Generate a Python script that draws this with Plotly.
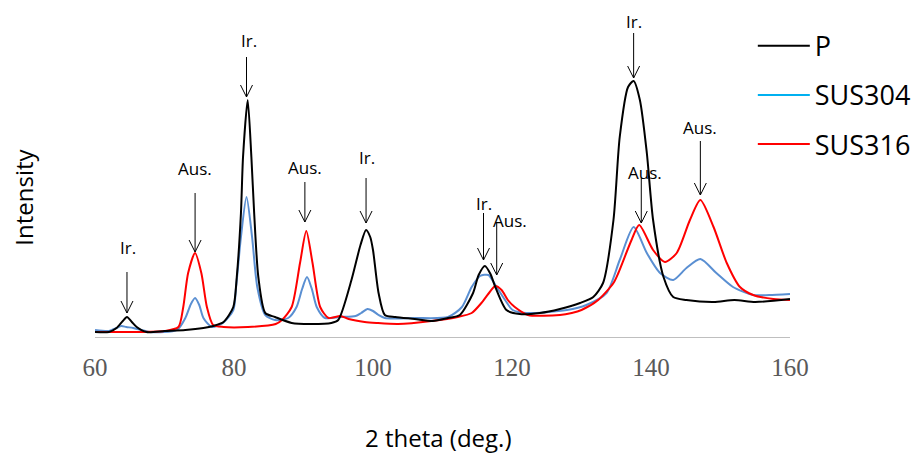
import plotly.graph_objects as go

# ---- data ----
p_x = [60, 62, 63.1, 64, 64.6, 65.3, 66, 67.4, 70, 73, 75.6, 77, 78.5, 79.9, 80.4, 81.0, 81.3, 81.97,
       82.5, 82.9, 83.5, 84.5, 85.9, 88.3, 91, 94, 95, 96.9, 98.2, 99.0, 99.6, 100.0, 100.8, 101.7,
       103.2, 106, 108.6, 110.8, 112.5, 114.4, 115.2, 116.1, 116.9, 117.6, 119.2, 121.1, 124, 126.9,
       129.8, 131.7, 133.1, 134.6, 135.5, 136.7, 137.5, 138.4, 139.4, 140.3, 141.8, 143.2, 145.1,
       149, 152, 155, 160]
p_y = [5, 5, 9, 16, 20, 15, 10, 5, 6, 7, 9, 11, 15, 30, 60, 124, 180, 237,
       180, 124, 60, 24, 20, 14, 13, 14, 17, 57, 92, 107, 100, 87, 44, 22,
       20, 18, 16, 19, 22, 44, 62, 71, 63, 50, 27, 23, 24, 28,
       34, 40, 54, 117, 200, 250, 256, 237, 184, 117, 60, 40, 37,
       35, 37, 35, 38]

sus304_x = [60, 62, 63.1, 63.8, 64.5, 65.5, 67.9, 71.8, 73, 73.8, 74.4, 75.0, 75.6, 76.8, 78.4, 79.9,
            80.3, 81.0, 81.8, 82.6, 83.35, 84.5, 85.9, 87.8, 89.0, 89.8, 90.5, 91.2, 91.9, 93.1, 95.3,
            97.5, 98.3, 99.2, 100.0, 100.8, 101.7, 106, 110.8, 112.8, 114.2, 115.4, 116.6, 117.6, 119.0,
            120.1, 122.1, 127.9, 130.7, 133.6, 135.5, 137.5, 139.4, 141.3, 143.2, 145.1, 147.1, 149.4,
            151.8, 154.7, 157, 160]
sus304_y = [7, 6, 9, 11, 10, 9, 5, 7, 19, 33, 39, 32, 19, 10, 14, 27,
            50, 100, 140, 100, 50, 22, 17, 19, 30, 48, 60, 48, 30, 19, 20,
            21, 24, 28, 26, 22, 19, 19, 20, 30, 50, 61, 62, 52, 37,
            27, 24, 27, 32, 44, 77, 110, 84, 64, 57, 69, 78, 64,
            50, 42, 42, 43]

sus316_x = [60, 65, 70, 72, 72.7, 73.4, 74.4, 75.3, 76.1, 77, 78.5, 82, 86, 86.9, 88.3, 89.5, 90.4,
            91.3, 92.4, 93.6, 95.3, 96.5, 98.8, 100.5, 103.6, 108.4, 112.2, 114.2, 115.6, 116.8,
            117.6, 118.5, 119.4, 120.4, 122.3, 126.9, 128.6, 130, 132.4, 134.6, 135.3, 137.2, 138.3,
            140.3, 142.0, 143.7, 145.6, 147.1, 149.0, 150.9, 152.8, 154.7, 157.6, 160]
sus316_y = [5, 5, 6, 10, 30, 64, 84, 64, 30, 12, 10, 10, 13, 17, 30, 74, 106,
            74, 30, 19, 21, 18, 15, 14, 13, 16, 20, 24, 34, 45,
            51, 47, 37, 30, 22, 22, 24, 27, 37, 54, 64, 97, 112,
            87, 75, 84, 117, 137, 110, 74, 50, 42, 38, 37]

series_names = ["P", "SUS304", "SUS316"]
x_ticks = [60, 80, 100, 120, 140, 160]

# peak labels: text, arrow x (deg), text y, arrow top, arrow tip (intensity units), text x (deg)
labels = ["Ir.", "Aus.", "Ir.", "Aus.", "Ir.", "Ir.", "Aus.", "Ir.", "Aus.", "Aus."]
label_arrow_x = [64.6, 74.4, 81.8, 90.2, 99.0, 115.9, 117.8, 137.5, 138.6, 147.1]
label_text_x = [64.8, 74.4, 82.1, 90.2, 99.2, 115.9, 119.7, 137.5, 139.2, 147.0]
label_text_y = [90, 169, 297, 170, 180, 134, 117, 316, 165, 210]
label_arrow_top = [65, 144, 280, 155, 159, 124, 114, 304, 159, 196]
label_arrow_tip = [24, 85, 240, 115, 114, 77, 62, 259, 114, 142]

# ---- styling ----
BLACK = "#000000"
BLUE = "#5A8FD2"
RED = "#FF0000"
LEG_BLUE = "#00B0F0"
px_per_deg = 695 / 100.0

fig = go.Figure()
fig.add_trace(go.Scatter(x=sus304_x, y=sus304_y, mode="lines", showlegend=False,
                         line=dict(color=BLUE, width=2, shape="spline", smoothing=0.7)))
fig.add_trace(go.Scatter(x=sus316_x, y=sus316_y, mode="lines", showlegend=False,
                         line=dict(color=RED, width=2, shape="spline", smoothing=0.7)))
fig.add_trace(go.Scatter(x=p_x, y=p_y, mode="lines", showlegend=False,
                         line=dict(color=BLACK, width=2, shape="spline", smoothing=0.7)))

# legend entries (legend colours differ from the drawn lines in the original)
for name, col in zip(series_names, [BLACK, LEG_BLUE, RED]):
    fig.add_trace(go.Scatter(x=[None], y=[None], mode="lines", name=name,
                             legendgroup=name, line=dict(color=col, width=2)))

shapes = []
annots = []
hw = 6 / px_per_deg
for t, ax, tx, ty, top, tip in zip(labels, label_arrow_x, label_text_x, label_text_y,
                                   label_arrow_top, label_arrow_tip):
    annots.append(dict(x=tx, y=ty, xref="x", yref="y", text=t, showarrow=False,
                       xanchor="center", yanchor="middle",
                       font=dict(family="Open Sans", size=17, color="#000000")))
    ln = dict(color="#000000", width=1)
    shapes.append(dict(type="line", xref="x", yref="y", x0=ax, x1=ax, y0=top, y1=tip, line=ln))
    shapes.append(dict(type="line", xref="x", yref="y", x0=ax - hw, x1=ax, y0=tip + 12, y1=tip, line=ln))
    shapes.append(dict(type="line", xref="x", yref="y", x0=ax + hw, x1=ax, y0=tip + 12, y1=tip, line=ln))

annots.append(dict(x=-0.104, y=0.4375, xref="paper", yref="paper", text="Intensity",
                   showarrow=False, textangle=-90, xanchor="center", yanchor="middle",
                   font=dict(family="Open Sans", size=24, color="#000000")))
annots.append(dict(x=0.4935, y=-0.3125, xref="paper", yref="paper", text="2 theta (deg.)",
                   showarrow=False, xanchor="center", yanchor="middle",
                   font=dict(family="Open Sans", size=24, color="#000000")))

fig.update_layout(
    width=913, height=449,
    margin=dict(l=87, r=131, t=9, b=120, autoexpand=False),
    paper_bgcolor="white", plot_bgcolor="white",
    showlegend=True,
    legend=dict(x=0.9465, y=0.985, xanchor="left", yanchor="top",
                font=dict(family="Open Sans", size=27, color="#000000"),
                tracegroupgap=11, traceorder="grouped", bgcolor="rgba(0,0,0,0)",
                itemwidth=52),
    xaxis=dict(range=[60, 160], tickvals=x_ticks, showgrid=False, zeroline=False,
               showline=True, linecolor="#BFBFBF", linewidth=1, ticks="",
               ticklabelstandoff=8,
               tickfont=dict(family="Liberation Serif", size=25, color="#595959")),
    yaxis=dict(range=[0, 320], showgrid=False, zeroline=False, showline=False,
               showticklabels=False, ticks=""),
    shapes=shapes, annotations=annots,
)

fig.write_html("out.html")
